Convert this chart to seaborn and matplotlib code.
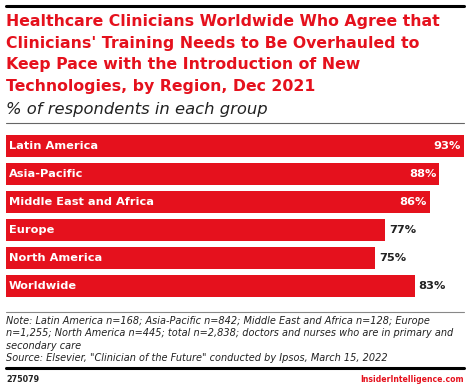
import matplotlib
matplotlib.use("Agg")
import matplotlib.pyplot as plt
import seaborn as sns
import pandas as pd

regions = ["Latin America", "Asia-Pacific", "Middle East and Africa", "Europe", "North America", "Worldwide"]
values = [93, 88, 86, 77, 75, 83]

title = ("Healthcare Clinicians Worldwide Who Agree that\n"
         "Clinicians' Training Needs to Be Overhauled to\n"
         "Keep Pace with the Introduction of New\n"
         "Technologies, by Region, Dec 2021")
subtitle = "% of respondents in each group"
note = ("Note: Latin America n=168; Asia-Pacific n=842; Middle East and Africa n=128; Europe\n"
        "n=1,255; North America n=445; total n=2,838; doctors and nurses who are in primary and\n"
        "secondary care\n"
        "Source: Elsevier, \"Clinician of the Future\" conducted by Ipsos, March 15, 2022")
chart_id = "275079"
brand = "InsiderIntelligence.com"

red = "#e5111d"
W, H = 470, 389

sns.set_style("white")
plt.rcParams["font.family"] = ["DejaVu Sans"]

df = pd.DataFrame({"region": regions, "value": values})

fig = plt.figure(figsize=(W / 100, H / 100), dpi=100)

def fx(px):
    return px / W

def fy(py):
    return 1 - py / H

# bars area
ax = fig.add_axes([fx(6), fy(300), fx(464) - fx(6), (300 - 132) / H])
sns.barplot(data=df, x="value", y="region", orient="h", color=red, width=0.786,
            saturation=1, ax=ax, edgecolor="none")
ax.set_xlim(0, 93)
ax.set_ylim(5.5, -0.5)
ax.axis("off")

for i, (name, v) in enumerate(zip(regions, values)):
    ax.text(0.6, i, name, color="white", fontsize=8.2, fontweight="bold",
            va="center", ha="left")
    if v >= 85:
        ax.text(v - 0.6, i, f"{v}%", color="white", fontsize=8.2, fontweight="bold",
                va="center", ha="right")
    else:
        ax.text(v + 0.8, i, f"{v}%", color="#222222", fontsize=8.2, fontweight="bold",
                va="center", ha="left")

# top rule
fig.add_artist(plt.Line2D([fx(6), fx(464)], [fy(6), fy(6)], color="black", lw=2.2))
fig.text(fx(6), fy(14), title, color=red, fontsize=11.3, fontweight="bold",
         va="top", ha="left", linespacing=1.56)
fig.text(fx(6), fy(102), subtitle, color="#222222", fontsize=11.8, style="italic",
         va="top", ha="left")
fig.add_artist(plt.Line2D([fx(6), fx(464)], [fy(123), fy(123)], color="#666666", lw=0.8))

# notes
fig.add_artist(plt.Line2D([fx(6), fx(464)], [fy(312), fy(312)], color="#888888", lw=0.8))
fig.text(fx(6), fy(316), note, color="#222222", fontsize=7, style="italic",
         va="top", ha="left", linespacing=1.3)
fig.add_artist(plt.Line2D([fx(6), fx(464)], [fy(368), fy(368)], color="black", lw=2.2))
fig.text(fx(6), fy(379), chart_id, color="#222222", fontsize=5.8, fontweight="bold",
         va="center", ha="left")
fig.text(fx(464), fy(379), brand, color=red, fontsize=5.6, fontweight="bold",
         va="center", ha="right")

fig.savefig("out.png", dpi=100)
